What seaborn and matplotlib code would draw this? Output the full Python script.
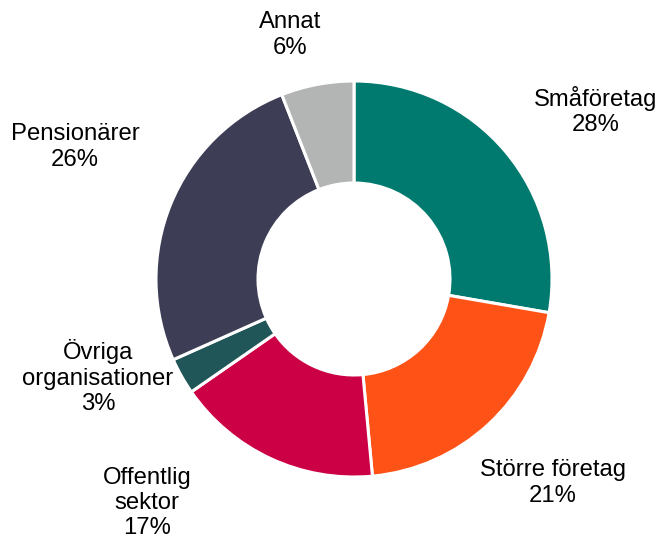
import numpy as np
import seaborn as sns
from matplotlib import pyplot as plt

sns.set_style("white")
plt.rcParams['font.family'] = ['Liberation Sans', 'DejaVu Sans']

categories = ["Småföretag", "Större företag", "Offentlig\nsektor",
              "Övriga\norganisationer", "Pensionärer", "Annat"]
shares = [28, 21, 17, 3, 26, 6]
colors = ["#007A6E", "#FF5216", "#CC0044", "#215659", "#3D3D55", "#B3B5B4"]

# label centres, in pixels relative to the pie centre
label_xy = [(242, 168), (199, -204), (-207, -224),
            (-256, -98), (-279, 132), (-64, 244)]

fig = plt.figure(figsize=(6.6, 5.38), dpi=100)
ax = fig.add_axes([0, 0, 1, 1])

ax.pie(shares, colors=colors, startangle=90, counterclock=False,
       radius=198, center=(0, 0),
       wedgeprops=dict(width=102, edgecolor="white", linewidth=2.2))

for name, val, (x, y) in zip(categories, shares, label_xy):
    ax.text(x, y, f"{name}\n{val}%", ha="center", va="center",
            multialignment="center", fontsize=17.2, linespacing=1.2,
            color="black")

ax.set_xlim(-354, 306)
ax.set_ylim(-259, 279)
ax.set_aspect("equal")
ax.axis("off")

plt.savefig("out.png", dpi=100)
